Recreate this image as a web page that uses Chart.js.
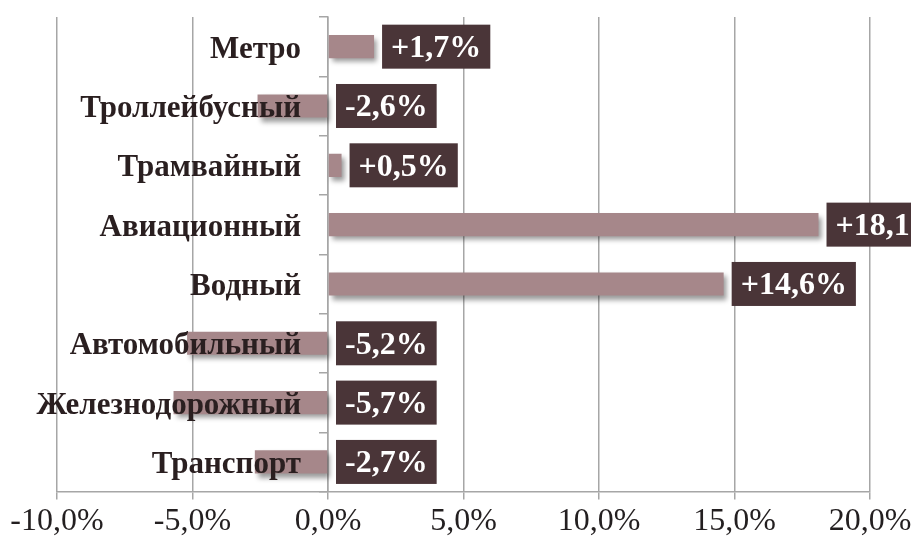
<!DOCTYPE html>
<html>
<head>
<meta charset="utf-8">
<script src="https://cdn.jsdelivr.net/npm/chart.js@4"></script>
<style>
  html, body { margin: 0; padding: 0; background: #fff; }
  #wrap { width: 911px; height: 543px; }
</style>
</head>
<body>
<div id="wrap"><canvas id="chart" width="911" height="543"></canvas></div>
<script>
const categories = ["Метро", "Троллейбусный", "Трамвайный", "Авиационный", "Водный", "Автомобильный", "Железнодорожный", "Транспорт"];
const changes = [1.7, -2.6, 0.5, 18.1, 14.6, -5.2, -5.7, -2.7];
const xTicks = [-10, -5, 0, 5, 10, 15, 20];

const FONT = "'Liberation Serif', 'Times New Roman', serif";
const BAR_COLOR = "#a6878a";
const BOX_COLOR = "#4a3538";

function fmt(v) {
  return v.toFixed(1).replace(".", ",") + "%";
}

// shadow under the bars
const barShadow = {
  id: "barShadow",
  beforeDatasetsDraw(chart) {
    const ctx = chart.ctx;
    ctx.save();
    ctx.shadowColor = "rgba(0,0,0,0.4)";
    ctx.shadowBlur = 5;
    ctx.shadowOffsetX = 3;
    ctx.shadowOffsetY = 4;
  },
  afterDatasetsDraw(chart) {
    chart.ctx.restore();
  },
};

// category names on top of the bars, left of the zero line
const categoryNames = {
  id: "categoryNames",
  afterDatasetsDraw(chart) {
    const ctx = chart.ctx;
    const yScale = chart.scales.y;
    const zero = chart.scales.x.getPixelForValue(0);
    ctx.save();
    ctx.font = "bold 31px " + FONT;
    ctx.textBaseline = "middle";
    ctx.textAlign = "right";
    ctx.fillStyle = "#2a1f20";
    categories.forEach((name, i) => {
      ctx.fillText(name, zero - 27, yScale.getPixelForValue(i) + 3);
    });
    ctx.restore();
  },
};

// dark boxes with the values
const valueBoxes = {
  id: "valueBoxes",
  afterDatasetsDraw(chart) {
    const ctx = chart.ctx;
    const meta = chart.getDatasetMeta(0);
    const zero = chart.scales.x.getPixelForValue(0);
    ctx.save();
    ctx.font = "bold 32px " + FONT;
    ctx.textBaseline = "middle";
    ctx.textAlign = "left";
    meta.data.forEach((bar, i) => {
      const v = changes[i];
      const text = (v > 0 ? "+" : "") + fmt(v);
      const w = ctx.measureText(text).width;
      const left = (v > 0 ? bar.x : zero) + 8;
      const h = 44;
      ctx.fillStyle = BOX_COLOR;
      ctx.fillRect(left, bar.y - h / 2, w + 18, h);
      ctx.fillStyle = "#ffffff";
      ctx.fillText(text, left + 9, bar.y + 2);
    });
    ctx.restore();
  },
};

new Chart(document.getElementById("chart"), {
  type: "bar",
  data: {
    labels: categories,
    datasets: [
      {
        data: changes,
        backgroundColor: BAR_COLOR,
        borderWidth: 0,
        barPercentage: 0.39,
        categoryPercentage: 1,
      },
    ],
  },
  options: {
    indexAxis: "y",
    responsive: false,
    animation: false,
    events: [],
    layout: { padding: { top: 17, left: 0, right: 0, bottom: -1 } },
    plugins: {
      legend: { display: false },
      tooltip: { enabled: false },
    },
    scales: {
      x: {
        min: -10,
        max: 20,
        afterBuildTicks: (scale) => {
          scale.ticks = xTicks.map((v) => ({ value: v }));
        },
        afterFit: (scale) => {
          scale.paddingLeft = 57;
          scale.paddingRight = 41;
        },
        grid: {
          color: "#a6a6a6",
          lineWidth: 1.5,
          tickLength: 8,
        },
        border: { color: "#a6a6a6", width: 1.5 },
        ticks: {
          color: "#231f20",
          font: { family: FONT, size: 32 },
          padding: 3,
          callback: (v) => fmt(v),
        },
      },
      y: {
        position: { x: 0 },
        grid: {
          drawOnChartArea: false,
          color: "#a6a6a6",
          lineWidth: 1.5,
          tickLength: 8,
        },
        border: { color: "#a6a6a6", width: 1.5 },
        ticks: { display: false },
      },
    },
  },
  plugins: [barShadow, categoryNames, valueBoxes],
});
</script>
</body>
</html>
